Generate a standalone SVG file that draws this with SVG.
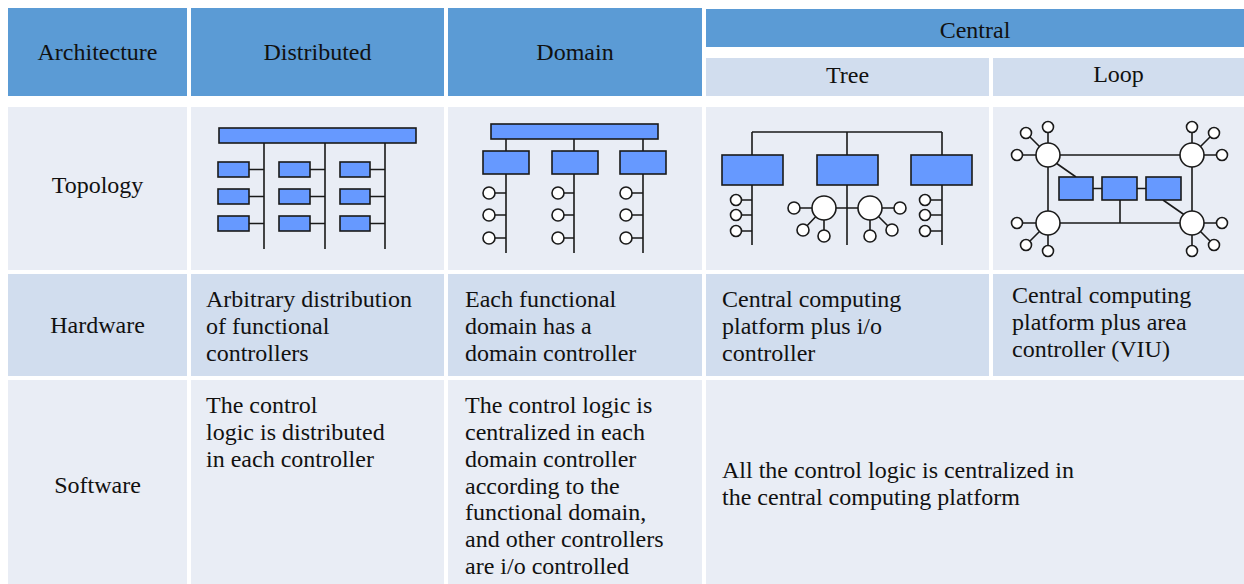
<svg xmlns="http://www.w3.org/2000/svg" width="1244" height="584" viewBox="0 0 1244 584">
<style>
.hd{fill:#5B9BD5}
.lt{fill:#E9EDF5}
.md{fill:#D1DDEE}
.t{font-family:'Liberation Serif','Times New Roman','DejaVu Serif',serif;font-size:24px;fill:#111}
.c{text-anchor:middle}
.box{fill:#6699FF;stroke:#1a1a1a;stroke-width:1.6}
.ln{stroke:#1a1a1a;stroke-width:1.6;fill:none}
.cir{fill:#fff;stroke:#1a1a1a;stroke-width:1.6}
</style>
<rect width="1244" height="584" fill="#fff"/>
<g id="header" class="t" font-family="Liberation Serif, Times New Roman, serif">
<g id="h-arch"><rect class="hd" x="8" y="8" width="179" height="88"/><text class="c" x="97.5" y="60">Architecture</text></g>
<g id="h-dist"><rect class="hd" x="191" y="8" width="253" height="88"/><text class="c" x="317.5" y="60">Distributed</text></g>
<g id="h-dom"><rect class="hd" x="448" y="8" width="254" height="88"/><text class="c" x="575" y="60">Domain</text></g>
<g id="h-central"><rect class="hd" x="706" y="9" width="538" height="38"/><text class="c" x="975" y="38">Central</text></g>
<g id="h-tree"><rect class="md" x="706" y="58" width="283" height="38"/><text class="c" x="847.5" y="83">Tree</text></g>
<g id="h-loop"><rect class="md" x="993" y="58" width="251" height="38"/><text class="c" x="1118.5" y="82">Loop</text></g>
</g>
<g id="row-topology" class="t" font-family="Liberation Serif, Times New Roman, serif">
<g id="t-label"><rect class="lt" x="8" y="107" width="179" height="163"/><text class="c" x="97.5" y="193">Topology</text></g>
<rect id="t-dist" class="lt" x="191" y="107" width="253" height="163"/>
<rect id="t-dom" class="lt" x="448" y="107" width="254" height="163"/>
<rect id="t-tree" class="lt" x="706" y="107" width="283" height="163"/>
<rect id="t-loop" class="lt" x="993" y="107" width="251" height="163"/>
</g>
<g id="row-hardware" class="t" font-family="Liberation Serif, Times New Roman, serif">
<g id="hw-label"><rect class="md" x="8" y="274" width="179" height="102"/><text class="c" x="97.5" y="333">Hardware</text></g>
<g id="hw-dist"><rect class="md" x="191" y="274" width="253" height="102"/><text x="206" y="307">Arbitrary distribution</text><text x="206" y="334">of functional</text><text x="206" y="361">controllers</text></g>
<g id="hw-dom"><rect class="md" x="448" y="274" width="254" height="102"/><text x="465" y="307">Each functional</text><text x="465" y="334">domain has a</text><text x="465" y="361">domain controller</text></g>
<g id="hw-tree"><rect class="md" x="706" y="274" width="283" height="102"/><text x="722" y="307">Central computing</text><text x="722" y="334">platform plus i/o</text><text x="722" y="361">controller</text></g>
<g id="hw-loop"><rect class="md" x="993" y="274" width="251" height="102"/><text x="1012" y="303">Central computing</text><text x="1012" y="330">platform plus area</text><text x="1012" y="357">controller (VIU)</text></g>
</g>
<g id="row-software" class="t" font-family="Liberation Serif, Times New Roman, serif">
<g id="sw-label"><rect class="lt" x="8" y="380" width="179" height="204"/><text class="c" x="97.5" y="493">Software</text></g>
<g id="sw-dist"><rect class="lt" x="191" y="380" width="253" height="204"/><text x="206" y="413">The control</text><text x="206" y="440">logic is distributed</text><text x="206" y="467">in each controller</text></g>
<g id="sw-dom"><rect class="lt" x="448" y="380" width="254" height="204"/><text x="465" y="413">The control logic is</text><text x="465" y="440">centralized in each</text><text x="465" y="467">domain controller</text><text x="465" y="494">according to the</text><text x="465" y="520">functional domain,</text><text x="465" y="547">and other controllers</text><text x="465" y="574">are i/o controlled</text></g>
<g id="sw-central"><rect class="lt" x="706" y="380" width="538" height="204"/><text x="722" y="478">All the control logic is centralized in</text><text x="722" y="505">the central computing platform</text></g>
</g>
<g id="connectors">
<g id="c-dist">
<path class="ln" d="M264 143V249M325 143V249M385 143V249M249 169.5H264M249 196.5H264M249 223.5H264M310 169.5H325M310 196.5H325M310 223.5H325M370 169.5H385M370 196.5H385M370 223.5H385"/>
</g>
<g id="c-dom">
<path class="ln" d="M506 139V253M574 139V253M643 139V253M489 193H506M489 215H506M489 238H506M558 193H574M558 215H574M558 238H574M626 193H643M626 215H643M626 238H643"/>
</g>
<g id="c-tree">
<path class="ln" d="M752 132H942M752 132V245M847 132V245M942 132V245M736 200H752M736 215H752M736 231H752M925 200H942M925 215H942M925 231H942M794 208H900M824 208V236M803 230L824 208M870 208V236M892 230L870 208"/>
</g>
<g id="c-loop">
<path class="ln" d="M1048 155H1192V223H1048Z M1093 188.5H1146M1120 200V223M1056 163L1076 177M1163 200L1186 216M1017 155H1048M1026 133L1048 155M1048 127V155M1192 127V155M1214 133L1192 155M1222 155H1192M1017 223H1048M1026 245L1048 223M1048 251V223M1222 223H1192M1214 245L1192 223M1192 251V223"/>
</g>
</g>
<g id="nodes-dist">
<rect class="box" x="219" y="128" width="197" height="15"/>
<rect class="box" x="218" y="162" width="31" height="15"/><rect class="box" x="218" y="189" width="31" height="15"/><rect class="box" x="218" y="216" width="31" height="15"/>
<rect class="box" x="279" y="162" width="31" height="15"/><rect class="box" x="279" y="189" width="31" height="15"/><rect class="box" x="279" y="216" width="31" height="15"/>
<rect class="box" x="340" y="162" width="30" height="15"/><rect class="box" x="340" y="189" width="30" height="15"/><rect class="box" x="340" y="216" width="30" height="15"/>
</g>
<g id="nodes-dom">
<rect class="box" x="491" y="124" width="167" height="15"/>
<rect class="box" x="483" y="151" width="46" height="23"/><rect class="box" x="552" y="151" width="46" height="23"/><rect class="box" x="620" y="151" width="46" height="23"/>
<circle class="cir" cx="489" cy="193" r="6"/><circle class="cir" cx="489" cy="215" r="6"/><circle class="cir" cx="489" cy="238" r="6"/>
<circle class="cir" cx="558" cy="193" r="6"/><circle class="cir" cx="558" cy="215" r="6"/><circle class="cir" cx="558" cy="238" r="6"/>
<circle class="cir" cx="626" cy="193" r="6"/><circle class="cir" cx="626" cy="215" r="6"/><circle class="cir" cx="626" cy="238" r="6"/>
</g>
<g id="nodes-tree">
<rect class="box" x="722" y="155" width="61" height="30"/><rect class="box" x="817" y="155" width="61" height="30"/><rect class="box" x="911" y="155" width="61" height="30"/>
<circle class="cir" cx="736" cy="200" r="5.5"/><circle class="cir" cx="736" cy="215" r="5.5"/><circle class="cir" cx="736" cy="231" r="5.5"/>
<circle class="cir" cx="925" cy="200" r="5.5"/><circle class="cir" cx="925" cy="215" r="5.5"/><circle class="cir" cx="925" cy="231" r="5.5"/>
<circle class="cir" cx="794" cy="208" r="6"/><circle class="cir" cx="803" cy="230" r="6"/><circle class="cir" cx="824" cy="236" r="6"/>
<circle class="cir" cx="900" cy="208" r="6"/><circle class="cir" cx="892" cy="230" r="6"/><circle class="cir" cx="870" cy="236" r="6"/>
<circle class="cir" cx="824" cy="208" r="12"/><circle class="cir" cx="870" cy="208" r="12"/>
</g>
<g id="nodes-loop">
<rect class="box" x="1059" y="177" width="34" height="23"/><rect class="box" x="1102" y="177" width="35" height="23"/><rect class="box" x="1146" y="177" width="35" height="23"/>
<circle class="cir" cx="1017" cy="155" r="5.5"/><circle class="cir" cx="1026" cy="133" r="5.5"/><circle class="cir" cx="1048" cy="127" r="5.5"/>
<circle class="cir" cx="1192" cy="127" r="5.5"/><circle class="cir" cx="1214" cy="133" r="5.5"/><circle class="cir" cx="1222" cy="155" r="5.5"/>
<circle class="cir" cx="1017" cy="223" r="5.5"/><circle class="cir" cx="1026" cy="245" r="5.5"/><circle class="cir" cx="1048" cy="251" r="5.5"/>
<circle class="cir" cx="1222" cy="223" r="5.5"/><circle class="cir" cx="1214" cy="245" r="5.5"/><circle class="cir" cx="1192" cy="251" r="5.5"/>
<circle class="cir" cx="1048" cy="155" r="12"/><circle class="cir" cx="1192" cy="155" r="12"/><circle class="cir" cx="1048" cy="223" r="12"/><circle class="cir" cx="1192" cy="223" r="12"/>
</g>
</svg>
